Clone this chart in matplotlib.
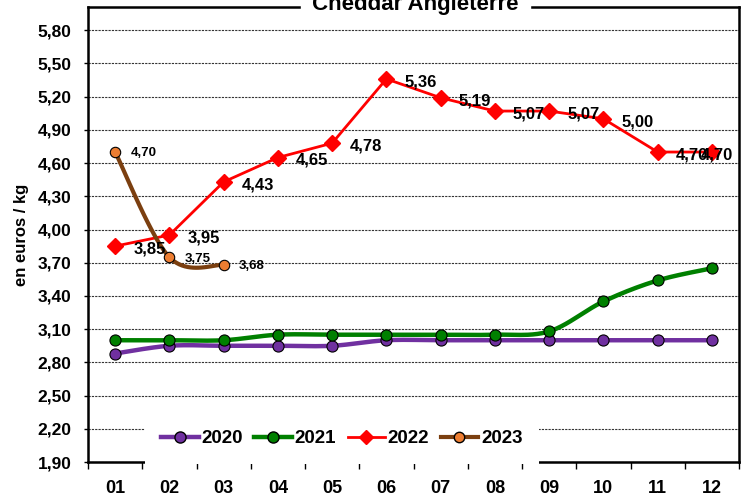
import numpy as np
import matplotlib.pyplot as plt

plt.rcParams['font.family'] = ['Liberation Sans', 'DejaVu Sans']
plt.rcParams['font.weight'] = 'bold'

months = ['01', '02', '03', '04', '05', '06', '07', '08', '09', '10', '11', '12']
y2020 = [2.88, 2.95, 2.95, 2.95, 2.95, 3.00, 3.00, 3.00, 3.00, 3.00, 3.00, 3.00]
y2021 = [3.00, 3.00, 3.00, 3.05, 3.05, 3.05, 3.05, 3.05, 3.08, 3.35, 3.54, 3.65]
y2022 = [3.85, 3.95, 4.43, 4.65, 4.78, 5.36, 5.19, 5.07, 5.07, 5.00, 4.70, 4.70]
y2023 = [4.70, 3.75, 3.68]


def smooth(xs, ys, n=24):
    # Catmull-Rom curve through the points, like Excel's smoothed lines
    xs = np.asarray(xs, float)
    ys = np.asarray(ys, float)
    px = np.concatenate([[xs[0]], xs, [xs[-1]]])
    py = np.concatenate([[ys[0]], ys, [ys[-1]]])
    outx, outy = [], []
    t = np.linspace(0, 1, n)
    for i in range(1, len(px) - 2):
        for p, out in ((px, outx), (py, outy)):
            p0, p1, p2, p3 = p[i - 1], p[i], p[i + 1], p[i + 2]
            c1 = p1 + (p2 - p0) / 6
            c2 = p2 - (p3 - p1) / 6
            out.extend((1 - t) ** 3 * p1 + 3 * (1 - t) ** 2 * t * c1
                       + 3 * (1 - t) * t ** 2 * c2 + t ** 3 * p2)
    return outx, outy


fig = plt.figure(figsize=(7.42, 4.99), dpi=100)
ax = fig.add_axes([0.1186, 0.0741, 0.8774, 0.9119])

x = np.arange(len(months))

sx, sy = smooth(x, y2020)
ax.plot(sx, sy, color='#7030A0', lw=3.2, zorder=3)
ax.plot(x, y2020, 'o', color='#7030A0', mec='black', mew=0.8, ms=8, zorder=4)

sx, sy = smooth(x, y2021)
ax.plot(sx, sy, color='#008000', lw=3.2, zorder=3)
ax.plot(x, y2021, 'o', color='#008000', mec='black', mew=0.8, ms=8, zorder=4)

ax.plot(x, y2022, '-D', color='#FF0000', lw=2, ms=8, zorder=5)

x23 = x[:len(y2023)]
sx, sy = smooth(x23, y2023)
ax.plot(sx, sy, color='#7B3F10', lw=3, zorder=6)
ax.plot(x23, y2023, 'o', color='#ED7D31', mec='black', mew=0.8, ms=7.5, zorder=7)

for i, (xi, v) in enumerate(zip(x, y2022)):
    dx = -8 if i == len(y2022) - 1 else 13
    ax.annotate(f'{v:.2f}'.replace('.', ','), (xi, v), xytext=(dx, -2),
                textcoords='offset points', ha='left', va='center',
                fontsize=12, fontweight='bold', zorder=8)
for xi, v in zip(x23, y2023):
    ax.annotate(f'{v:.2f}'.replace('.', ','), (xi, v), xytext=(11, -1),
                textcoords='offset points', ha='left', va='center',
                fontsize=9.5, fontweight='bold', zorder=8)

ax.set_xlim(-0.5, 11.5)
ax.set_ylim(1.9, 6.01)
yt = np.arange(1.9, 5.81, 0.3)
ax.set_yticks(yt)
ax.set_yticklabels([f'{v:.2f}'.replace('.', ',') for v in yt], fontsize=12.5, fontweight='bold')
ax.set_xticks(x)
ax.set_xticklabels(months, fontsize=13, fontweight='bold')
ax.set_xticks(np.arange(-0.5, 12, 1), minor=True)
ax.tick_params(axis='x', which='major', length=0, pad=13)
ax.tick_params(axis='x', which='minor', length=5, width=1, direction='out')
ax.tick_params(axis='y', length=3, width=1, pad=9)
ax.grid(axis='y', linestyle=(0, (2, 1)), color='#333333', lw=0.8)
ax.set_axisbelow(True)
for s in ax.spines.values():
    s.set_linewidth(1.8)

ax.set_ylabel('en euros / kg', fontsize=12, fontweight='bold', labelpad=6)

fig.text(0.56, 0.99, ' Cheddar Angleterre ', ha='center', va='center',
         fontsize=16, fontweight='bold', backgroundcolor='white')

h = [plt.Line2D([], [], color='#7030A0', lw=3.2, marker='o', mfc='#7030A0', mec='black', ms=8),
     plt.Line2D([], [], color='#008000', lw=3.2, marker='o', mfc='#008000', mec='black', ms=8),
     plt.Line2D([], [], color='#FF0000', lw=2, marker='D', ms=7),
     plt.Line2D([], [], color='#7B3F10', lw=3, marker='o', mfc='#ED7D31', mec='black', ms=7.5)]
leg = ax.legend(h, ['2020', '2021', '2022', '2023'], loc='lower center',
                bbox_to_anchor=(0.39, -0.025), ncol=4, frameon=True,
                framealpha=1, edgecolor='none', fancybox=False,
                prop={'size': 13.5, 'weight': 'bold'}, handlelength=2.0,
                handletextpad=0.15, columnspacing=0.6, borderpad=0.9)
leg.set_zorder(10)

fig.savefig('out.png', dpi=100)
